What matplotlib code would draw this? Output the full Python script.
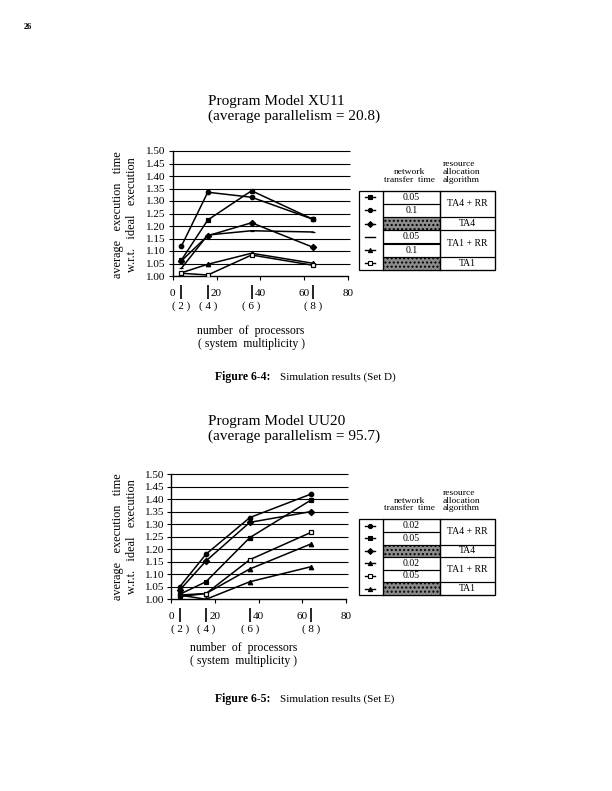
import numpy as np
import matplotlib
matplotlib.use("Agg")
import matplotlib.pyplot as plt
from matplotlib.patches import Rectangle

plt.rcParams['font.family'] = ['Liberation Serif', 'DejaVu Serif']

W, H = 612, 791

# common x data: number of processors and system multiplicity
processors = [4, 16, 36, 64]
multiplicity = ['( 2 )', '( 4 )', '( 6 )', '( 8 )']
x_ticks = [0, 20, 40, 60, 80]
y_ticks = [1.00, 1.05, 1.10, 1.15, 1.20, 1.25, 1.30, 1.35, 1.40, 1.45, 1.50]

# Set D (program model XU11)
d_ta4rr_005 = [1.064, 1.224, 1.341, 1.227]
d_ta4rr_01 = [1.120, 1.335, 1.315, 1.227]
d_ta4 = [1.061, 1.161, 1.213, 1.115]
d_ta1rr_005 = [1.031, 1.164, 1.181, 1.176]
d_ta1rr_01 = [1.013, 1.047, 1.091, 1.051]
d_ta1 = [1.011, 1.004, 1.084, 1.043]
d_transfer = ['0.05', '0.1']

# Set E (program model UU20)
e_ta4rr_002 = [1.050, 1.180, 1.326, 1.420]
e_ta4rr_005 = [1.020, 1.070, 1.246, 1.396]
e_ta4 = [1.037, 1.153, 1.307, 1.350]
e_ta1rr_002 = [1.011, 1.023, 1.121, 1.221]
e_ta1rr_005 = [1.017, 1.023, 1.158, 1.267]
e_ta1 = [1.017, 1.000, 1.070, 1.130]
e_transfer = ['0.02', '0.05']

algorithms = ['TA4 + RR', 'TA4', 'TA1 + RR', 'TA1']

d_styles = [('s', 'black'), ('o', 'black'), ('D', 'black'),
            ('_', 'black'), ('^', 'black'), ('s', 'white')]
e_styles = [('o', 'black'), ('s', 'black'), ('D', 'black'),
            ('^', 'black'), ('s', 'white'), ('^', 'black')]


def frac(x, y):
    return x / W, 1 - y / H


def draw_chart(fig, left, top, right, bottom, series, styles):
    x0, y0 = frac(left, bottom)
    x1, y1 = frac(right, top)
    ax = fig.add_axes([x0, y0, x1 - x0, y1 - y0])
    # horizontal rules, running slightly past the x axis end
    ax.hlines(y_ticks[1:], 0, 81, color='black', lw=0.8, clip_on=False, zorder=1)
    for ys, (m, fc) in zip(series, styles):
        ax.plot(processors, ys, color='black', lw=1.1, marker=m, ms=3.2,
                mfc=fc, mec='black', mew=0.9, zorder=3)
    ax.set_xlim(0, 80)
    ax.set_ylim(1.0, 1.5)
    ax.set_yticks(y_ticks)
    ax.set_yticklabels(['%.2f' % v for v in y_ticks], fontsize=8)
    ax.set_xticks(x_ticks)
    ax.set_xticklabels([str(v) for v in x_ticks], fontsize=8)
    ax.tick_params(direction='out', length=3, width=0.8, pad=2)
    ax.tick_params(axis='x', pad=6)
    for s in ['top', 'right']:
        ax.spines[s].set_visible(False)
    for s in ['left', 'bottom']:
        ax.spines[s].set_linewidth(1.0)
    # data position markers and multiplicity labels below the axis
    tr = ax.get_xaxis_transform()
    ax.vlines(processors, -0.18, -0.07, transform=tr, color='black', lw=1.2,
              clip_on=False)
    for xp, lab in zip(processors, multiplicity):
        ax.text(xp, -0.24, lab, transform=tr, ha='center', va='center', fontsize=8)
    return ax


def draw_legend(page, top, row_h, transfer, styles):
    left, c1, c2, right = 359, 383, 440, 495
    bottom = top + 6 * row_h
    page.add_patch(Rectangle((left, top), right - left, bottom - top,
                             fill=False, ec='black', lw=0.9))
    page.plot([c1, c1], [top, bottom], color='black', lw=0.9)
    page.plot([c2, c2], [top, bottom], color='black', lw=0.9)
    net = [transfer[0], transfer[1], None, transfer[0], transfer[1], None]
    for i in range(6):
        yt = top + i * row_h
        if net[i] is None:
            page.add_patch(Rectangle((c1, yt), c2 - c1, row_h, fc='0.55',
                                     ec='black', lw=0.8, hatch='....'))
        else:
            page.add_patch(Rectangle((c1, yt), c2 - c1, row_h, fill=False,
                                     ec='black', lw=0.8))
            page.text((c1 + c2) / 2, yt + row_h / 2, net[i], ha='center',
                      va='center', fontsize=7)
        m, fc = styles[i]
        page.plot([left + 6, left + 16], [yt + row_h / 2] * 2, color='black', lw=1.0)
        page.plot([left + 11], [yt + row_h / 2], marker=m, ms=3, mfc=fc,
                  mec='black', mew=0.8, color='black')
    spans = [(0, 2), (2, 3), (3, 5), (5, 6)]
    for (a, b), name in zip(spans, algorithms):
        page.add_patch(Rectangle((c2, top + a * row_h), right - c2, (b - a) * row_h,
                                 fill=False, ec='black', lw=0.8))
        page.text((c2 + right) / 2, top + (a + b) / 2 * row_h, name,
                  ha='center', va='center', fontsize=7)
    page.text(409, top - 7, 'network\ntransfer  time', ha='center', va='bottom',
              fontsize=6.8, linespacing=0.95)
    page.text(443, top - 7, 'resource\nallocation\nalgorithm', ha='left',
              va='bottom', fontsize=6.8, linespacing=0.95)


fig = plt.figure(figsize=(W / 100, H / 100), dpi=100)
page = fig.add_axes([0, 0, 1, 1])
page.set_xlim(0, W)
page.set_ylim(H, 0)
page.axis('off')

# page number
page.text(28, 27, '26', fontsize=6, fontweight='bold', ha='center', va='center')

# ---- Figure 6-4 ----
page.text(208, 101, 'Program Model XU11', fontsize=11, va='center', ha='left')
page.text(208, 116, '(average parallelism = 20.8)', fontsize=11, va='center', ha='left')
draw_chart(fig, 172.7, 151, 348, 276,
           [d_ta4rr_005, d_ta4rr_01, d_ta4, d_ta1rr_005, d_ta1rr_01, d_ta1], d_styles)
page.text(125, 215, 'average   execution   time\nw.r.t.   ideal   execution',
          rotation=90, ha='center', va='center', fontsize=8.8, linespacing=1.25)
draw_legend(page, 190.7, 13.2, d_transfer, d_styles)
page.text(251, 331, 'number  of  processors', fontsize=8.5, ha='center', va='center')
page.text(251, 343.5, '( system  multiplicity )', fontsize=8.5, ha='center', va='center')
page.text(215, 377, 'Figure 6-4:', fontsize=8.5, fontweight='bold', va='center')
page.text(280, 377, 'Simulation results (Set D)', fontsize=8, va='center')

# ---- Figure 6-5 ----
page.text(208, 421, 'Program Model UU20', fontsize=11, va='center', ha='left')
page.text(208, 436, '(average parallelism = 95.7)', fontsize=11, va='center', ha='left')
draw_chart(fig, 171, 474, 346, 599.3,
           [e_ta4rr_002, e_ta4rr_005, e_ta4, e_ta1rr_002, e_ta1rr_005, e_ta1], e_styles)
page.text(125, 537, 'average   execution   time\nw.r.t.   ideal   execution',
          rotation=90, ha='center', va='center', fontsize=8.8, linespacing=1.25)
draw_legend(page, 519.3, 12.6, e_transfer, e_styles)
page.text(244, 648.5, 'number  of  processors', fontsize=8.5, ha='center', va='center')
page.text(244, 661, '( system  multiplicity )', fontsize=8.5, ha='center', va='center')
page.text(215, 699, 'Figure 6-5:', fontsize=8.5, fontweight='bold', va='center')
page.text(280, 699, 'Simulation results (Set E)', fontsize=8, va='center')

fig.savefig('out.png', dpi=100)
